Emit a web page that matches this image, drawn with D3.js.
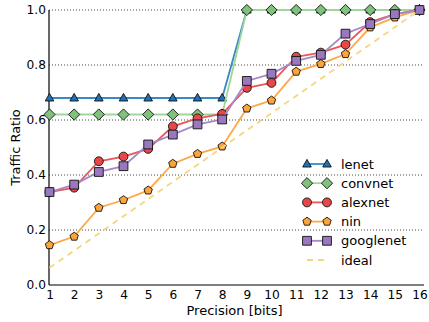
<!DOCTYPE html>
<html>
<head>
<meta charset="utf-8">
<script src="https://cdn.jsdelivr.net/npm/d3@7"></script>
<style>
  body { margin: 0; background: #fff; }
  text { font-family: "DejaVu Sans", sans-serif; fill: #000; }
</style>
</head>
<body>
<div id="chart"></div>
<script>
// data
var bits = [1, 2, 3, 4, 5, 6, 7, 8, 9, 10, 11, 12, 13, 14, 15, 16];
var lenet = [0.68, 0.68, 0.68, 0.68, 0.68, 0.68, 0.68, 0.68, 1, 1, 1, 1, 1, 1, 1, 1];
var convnet = [0.62, 0.62, 0.62, 0.62, 0.62, 0.62, 0.62, 0.62, 1, 1, 1, 1, 1, 1, 1, 1];
var alexnet = [0.338, 0.354, 0.45, 0.467, 0.495, 0.577, 0.606, 0.622, 0.717, 0.735, 0.83, 0.845, 0.874, 0.956, 0.985, 1.0];
var nin = [0.145, 0.176, 0.281, 0.309, 0.344, 0.441, 0.477, 0.504, 0.642, 0.671, 0.776, 0.804, 0.84, 0.937, 0.973, 1.0];
var googlenet = [0.338, 0.365, 0.411, 0.432, 0.511, 0.547, 0.584, 0.602, 0.742, 0.768, 0.815, 0.837, 0.914, 0.949, 0.985, 1.0];
var ideal = [0.0625, 0.125, 0.1875, 0.25, 0.3125, 0.375, 0.4375, 0.5, 0.5625, 0.625, 0.6875, 0.75, 0.8125, 0.875, 0.9375, 1.0];
var yTicks = [0.0, 0.2, 0.4, 0.6, 0.8, 1.0];

var svgWidth = 429;
var svgHeight = 322;
var margin = { top: 10, right: 5, bottom: 37, left: 49 };
var width = svgWidth - margin.left - margin.right;
var height = svgHeight - margin.top - margin.bottom;

var svg = d3.select("#chart")
  .append("svg")
  .attr("width", svgWidth)
  .attr("height", svgHeight);

var chartGroup = svg.append("g")
  .attr("transform", `translate(${margin.left}, ${margin.top})`);

var xScale = d3.scaleLinear().domain([1, 16]).range([0.5, width - 4.5]);
var yScale = d3.scaleLinear().domain([0, 1]).range([height, 0]);

// grid lines (dotted)
chartGroup.selectAll(".grid")
  .data(yTicks.filter(d => d > 0))
  .enter()
  .append("line")
  .attr("x1", 0)
  .attr("x2", width)
  .attr("y1", d => yScale(d))
  .attr("y2", d => yScale(d))
  .attr("stroke", "#333")
  .attr("stroke-width", 0.9)
  .attr("stroke-dasharray", "1,2");

// axes
var bottomAxis = d3.axisBottom(xScale).tickValues(bits).tickSize(0).tickPadding(5).tickFormat(d3.format("d"));
var leftAxis = d3.axisLeft(yScale).tickValues(yTicks).tickSize(0).tickPadding(3).tickFormat(d3.format(".1f"));

var gx = chartGroup.append("g")
  .attr("transform", `translate(0, ${height})`)
  .call(bottomAxis);
var gy = chartGroup.append("g").call(leftAxis);
[gx, gy].forEach(function(g) {
  g.select(".domain").remove();
  g.selectAll("text").style("font-size", "12.2px").attr("fill", "#000");
});

chartGroup.append("line")
  .attr("x1", 0).attr("x2", width)
  .attr("y1", height).attr("y2", height)
  .attr("stroke", "#000").attr("stroke-width", 1.2);
chartGroup.append("line")
  .attr("x1", 0).attr("x2", 0)
  .attr("y1", 0).attr("y2", height)
  .attr("stroke", "#000").attr("stroke-width", 1.2);

// axis labels
chartGroup.append("text")
  .attr("transform", `translate(${xScale(8.5)}, ${height + 30})`)
  .attr("text-anchor", "middle")
  .style("font-size", "13px")
  .text("Precision [bits]");

chartGroup.append("text")
  .attr("transform", `translate(${-margin.left + 20}, ${height / 2}) rotate(-90)`)
  .attr("text-anchor", "middle")
  .style("font-size", "13px")
  .text("Traffic Ratio");

// marker shapes
function markerPath(shape) {
  if (shape === "triangle") return "M0,-4.6L4.3,3L-4.3,3Z";
  if (shape === "diamond") return "M0,-5.6L5.6,0L0,5.6L-5.6,0Z";
  if (shape === "square") return "M-4.4,-4.4H4.4V4.4H-4.4Z";
  if (shape === "circle") return d3.symbol(d3.symbolCircle, 62)();
  if (shape === "pentagon") {
    var pts = d3.range(5).map(function(i) {
      var a = -Math.PI / 2 + i * 2 * Math.PI / 5;
      return [4.4 * Math.cos(a), 4.4 * Math.sin(a)];
    });
    return "M" + pts.join("L") + "Z";
  }
}

var series = [
  { name: "lenet", values: lenet, line: "#3a88c6", fill: "#1f73b4", shape: "triangle" },
  { name: "convnet", values: convnet, line: "#9fd69a", fill: "#7fc27b", shape: "diamond" },
  { name: "alexnet", values: alexnet, line: "#ec5558", fill: "#e8474a", shape: "circle" },
  { name: "nin", values: nin, line: "#fda845", fill: "#fca33a", shape: "pentagon" },
  { name: "googlenet", values: googlenet, line: "#a589c8", fill: "#9a78c0", shape: "square" }
];

var line = d3.line()
  .x((d, i) => xScale(bits[i]))
  .y(d => yScale(d));

series.forEach(function(s) {
  chartGroup.append("path")
    .datum(s.values)
    .attr("fill", "none")
    .attr("stroke", s.line)
    .attr("stroke-width", 1.8)
    .attr("d", line);

  chartGroup.selectAll(".m-" + s.name)
    .data(s.values)
    .enter()
    .append("path")
    .attr("transform", (d, i) => `translate(${xScale(bits[i])}, ${yScale(d)})`)
    .attr("d", markerPath(s.shape))
    .attr("fill", s.fill)
    .attr("stroke", "#111")
    .attr("stroke-width", 0.9);
});

chartGroup.append("path")
  .datum(ideal)
  .attr("fill", "none")
  .attr("stroke", "#f3d77e")
  .attr("stroke-width", 1.8)
  .attr("stroke-dasharray", "6,5")
  .attr("d", line);

// legend
var legend = chartGroup.append("g")
  .attr("transform", "translate(258, 154)");

series.concat([{ name: "ideal" }]).forEach(function(s, i) {
  var row = legend.append("g").attr("transform", `translate(0, ${i * 19.2})`);
  if (s.name === "ideal") {
    row.append("line")
      .attr("x1", 0).attr("x2", 20)
      .attr("stroke", "#f3d77e")
      .attr("stroke-width", 1.8)
      .attr("stroke-dasharray", "6,5");
  } else {
    row.append("line")
      .attr("x1", 0).attr("x2", 20)
      .attr("stroke", s.line)
      .attr("stroke-width", 1.8);
    [0, 20].forEach(function(x) {
      row.append("path")
        .attr("transform", `translate(${x}, 0)`)
        .attr("d", markerPath(s.shape))
        .attr("fill", s.fill)
        .attr("stroke", "#111")
        .attr("stroke-width", 0.9);
    });
  }
  row.append("text")
    .attr("x", 34)
    .attr("dy", "0.35em")
    .style("font-size", "13px")
    .text(s.name);
});
</script>
</body>
</html>
